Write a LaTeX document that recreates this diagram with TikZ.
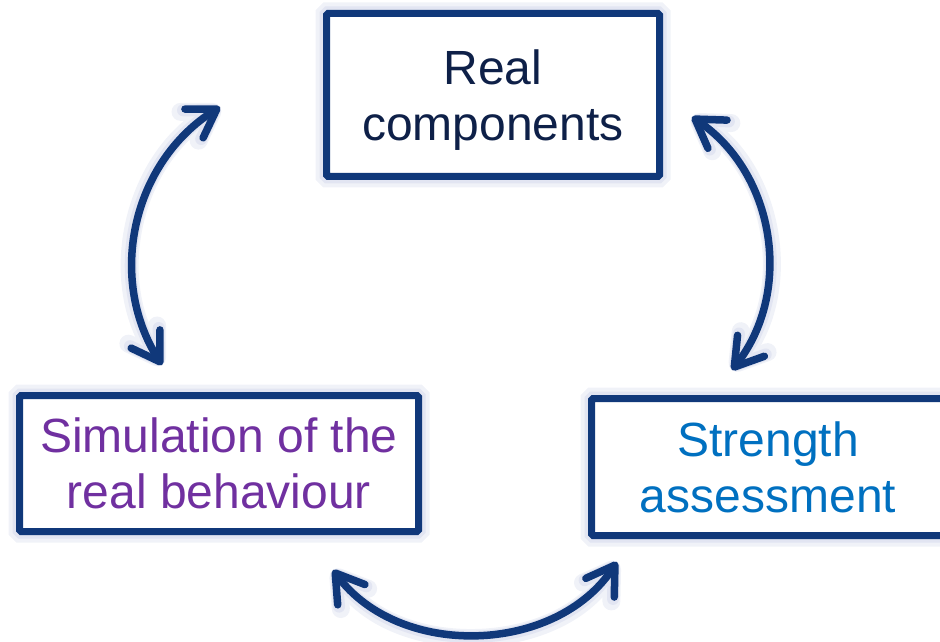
\documentclass[tikz,border=0pt]{standalone}
\usepackage{fontspec}
\setmainfont{Liberation Sans}
\usetikzlibrary{arrows.meta}
\definecolor{boxblue}{RGB}{16,56,122}
\definecolor{glow}{RGB}{226,229,242}
\definecolor{navytext}{RGB}{14,32,72}
\definecolor{simpurple}{RGB}{112,48,160}
\definecolor{strblue}{RGB}{0,112,192}

\begin{document}
\begin{tikzpicture}[x=1pt,y=1pt,
  stage/.style={draw=boxblue,line width=7pt,fill=white,rounded corners=1.5pt,
    align=center,inner sep=0pt,font=\fontsize{48}{56}\selectfont,
    preaction={draw=glow!50!white,line width=22pt},
    preaction={draw=glow,line width=14pt}},
  link/.style={draw=boxblue,line width=7.5pt,line cap=round,
    {Straight Barb[length=27pt,width=34pt,round]}-{Straight Barb[length=27pt,width=34pt,round]},
    preaction={draw=glow!50!white,line width=18pt},
    preaction={draw=glow,line width=12pt}}]
\useasboundingbox (0,0) rectangle (940,641);
\node[stage,minimum width=333pt,minimum height=163pt,text=navytext,text depth=0pt] (real) at (493,546) {Real\\components};
\node[stage,minimum width=399pt,minimum height=136pt,text=simpurple] (sim) at (219,177.5) {Simulation of the\\real behaviour};
\node[stage,minimum width=353pt,minimum height=137pt,text=strblue] (str) at (768,174) {Strength\\assessment};
\coordinate (simtop) at (162,276);
\coordinate (realleft) at (220,534);
\coordinate (realright) at (692,524);
\coordinate (strtop) at (732,271);
\coordinate (simbot) at (333,71);
\coordinate (strbot) at (617,79);
\draw[link] (simtop) to[bend left=45] (realleft);
\draw[link] (realright) to[bend left=47] (strtop);
\draw[link] (simbot) to[bend right=55] (strbot);
\end{tikzpicture}
\end{document}
